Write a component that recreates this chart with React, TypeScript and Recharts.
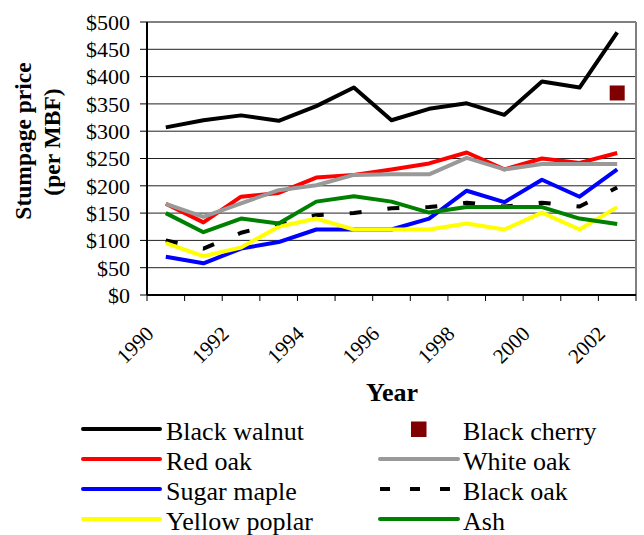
import { ComposedChart, Line, XAxis, YAxis, CartesianGrid, ReferenceLine } from "recharts";

const FONT = '"Liberation Serif", "Times New Roman", serif';

const YEARS = [1990, 1991, 1992, 1993, 1994, 1995, 1996, 1997, 1998, 1999, 2000, 2001, 2002];
const YEAR_TICKS = [1990, 1991, 1992, 1993, 1994, 1995, 1996, 1997, 1998, 1999, 2000, 2001, 2002, 2003];
const PRICE_TICKS = [0, 50, 100, 150, 200, 250, 300, 350, 400, 450, 500];

const BLACK_WALNUT = [307, 320, 329, 319, 346, 380, 320, 341, 351, 330, 391, 380, 481];
const BLACK_CHERRY = [null, null, null, null, null, null, null, null, null, null, null, null, 370];
const RED_OAK = [167, 133, 180, 187, 215, 220, 230, 241, 261, 230, 250, 242, 260];
const WHITE_OAK = [167, 143, 168, 192, 201, 220, 221, 221, 251, 230, 240, 240, 240];
const SUGAR_MAPLE = [70, 58, 85, 97, 120, 120, 120, 140, 191, 170, 211, 180, 230];
const BLACK_OAK = [100, 85, 114, 131, 146, 150, 159, 161, 169, 162, 169, 162, 197];
const YELLOW_POPLAR = [95, 71, 87, 125, 140, 120, 120, 120, 131, 120, 151, 120, 161];
const ASH = [150, 115, 140, 131, 171, 181, 171, 151, 161, 161, 161, 140, 130];

const data = YEARS.map((year, i) => ({
  x: year + 0.5, // points sit between the year tick marks
  year,
  blackWalnut: BLACK_WALNUT[i],
  blackCherry: BLACK_CHERRY[i],
  redOak: RED_OAK[i],
  whiteOak: WHITE_OAK[i],
  sugarMaple: SUGAR_MAPLE[i],
  blackOak: BLACK_OAK[i],
  yellowPoplar: YELLOW_POPLAR[i],
  ash: ASH[i],
}));

// legend / drawing order
const SERIES = [
  { key: "blackWalnut", name: "Black walnut", color: "#000000" },
  { key: "blackCherry", name: "Black cherry", color: "#800000", marker: true },
  { key: "redOak", name: "Red oak", color: "#FF0000" },
  { key: "whiteOak", name: "White oak", color: "#999999" },
  { key: "sugarMaple", name: "Sugar maple", color: "#0000FF" },
  { key: "blackOak", name: "Black oak", color: "#000000", dash: "12 26" },
  { key: "yellowPoplar", name: "Yellow poplar", color: "#FFFF00" },
  { key: "ash", name: "Ash", color: "#008000" },
];

function YearTick(props: any) {
  const { x, y, payload } = props;
  if (payload.value % 2 !== 0) return <g />;
  const ex = x + 8;
  const ey = y + 32;
  return (
    <text
      x={ex}
      y={ey}
      transform={`rotate(-45 ${ex} ${ey})`}
      textAnchor="end"
      style={{ fontFamily: FONT }}
      fontSize={21}
      fill="#000"
    >
      {payload.value}
    </text>
  );
}

function CherryDot(props: any) {
  const { cx, cy, value } = props;
  if (value == null || cy == null) return <g key={props.index} />;
  return <rect key={props.index} x={cx - 7.5} y={cy - 7.5} width={15} height={15} fill="#800000" />;
}

function YLabel() {
  return (
    <g style={{ fontFamily: FONT }} fontSize={23.5} fontWeight="bold" fill="#000">
      <text x={31} y={141} transform="rotate(-90 31 141)" textAnchor="middle">
        Stumpage price
      </text>
      <text x={60} y={142} transform="rotate(-90 60 142)" textAnchor="middle">
        (per MBF)
      </text>
    </g>
  );
}

function XLabel() {
  return (
    <text x={392} y={401} textAnchor="middle" style={{ fontFamily: FONT }} fontSize={26} fontWeight="bold" fill="#000">
      Year
    </text>
  );
}

function LegendBox() {
  return (
    <svg width={644} height={125} style={{ position: "absolute", left: 0, top: 410 }}>
      {SERIES.map((s, i) => {
        const row = Math.floor(i / 2);
        const col = i % 2;
        const ly = 19 + row * 30;
        const x0 = col === 0 ? 83 : 380;
        const x1 = col === 0 ? 160 : 458;
        const tx = col === 0 ? 166 : 463;
        return (
          <g key={s.key}>
            {s.marker ? (
              <rect x={411} y={ly - 7.5} width={15.5} height={15.5} fill={s.color} />
            ) : (
              <line
                x1={x0}
                x2={x1}
                y1={ly}
                y2={ly}
                stroke={s.color}
                strokeWidth={4}
                strokeLinecap={s.dash ? "butt" : "round"}
                strokeDasharray={s.dash ? "10 20" : undefined}
              />
            )}
            <text x={tx} y={ly + 11} style={{ fontFamily: FONT }} fontSize={26} fill="#000">
              {s.name}
            </text>
          </g>
        );
      })}
    </svg>
  );
}

export default function App() {
  return (
    <div style={{ position: "absolute", left: 0, top: 0, width: 644, height: 535, background: "#fff", overflow: "hidden" }}>
      <ComposedChart
        width={644}
        height={535}
        data={data}
        margin={{ top: 22, right: 8, left: 87, bottom: 200 }}
      >
        <CartesianGrid vertical={false} stroke="#222" strokeWidth={1} />
        <XAxis
          type="number"
          dataKey="x"
          domain={[1990, 2003]}
          ticks={YEAR_TICKS}
          interval={0}
          height={40}
          tick={<YearTick />}
          tickSize={6}
          tickMargin={2}
          axisLine={{ stroke: "#000", strokeWidth: 2 }}
          tickLine={{ stroke: "#000" }}
          label={<XLabel />}
        />
        <YAxis
          type="number"
          domain={[0, 500]}
          ticks={PRICE_TICKS}
          interval={0}
          width={60}
          tickSize={7}
          tickMargin={10}
          tickFormatter={(v: number) => `$${v}`}
          tick={{ fill: "#000", fontFamily: FONT, fontSize: 22 }}
          axisLine={{ stroke: "#000", strokeWidth: 2 }}
          tickLine={{ stroke: "#000" }}
          label={<YLabel />}
        />
        <ReferenceLine y={500} stroke="#808080" strokeWidth={2} />
        <ReferenceLine x={2003} stroke="#808080" strokeWidth={2} />
        {SERIES.map((s) =>
          s.marker ? (
            <Line
              key={s.key}
              dataKey={s.key}
              name={s.name}
              stroke="none"
              dot={<CherryDot />}
              activeDot={false}
              isAnimationActive={false}
            />
          ) : (
            <Line
              key={s.key}
              type="linear"
              dataKey={s.key}
              name={s.name}
              stroke={s.color}
              strokeWidth={4}
              strokeDasharray={s.dash}
              strokeLinejoin="round"
              dot={false}
              activeDot={false}
              isAnimationActive={false}
            />
          )
        )}
      </ComposedChart>
      <LegendBox />
    </div>
  );
}
